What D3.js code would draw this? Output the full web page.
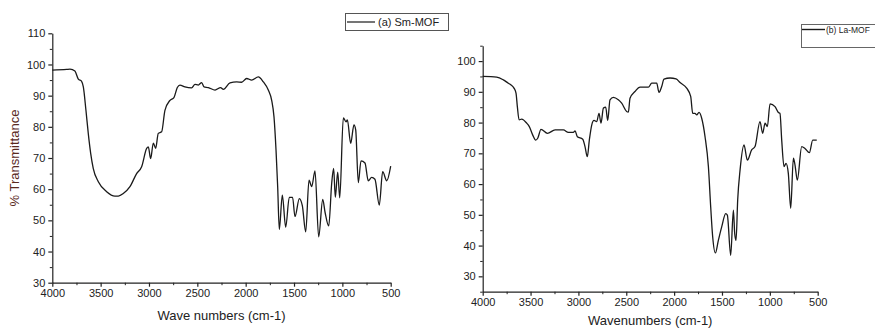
<!DOCTYPE html>
<html>
<head>
<meta charset="utf-8">
<script src="https://cdn.jsdelivr.net/npm/d3@7"></script>
<style>
  body { margin: 0; background: #fff; }
  svg { display: block; }
  .axis text { font-family: Arial, "Liberation Sans", sans-serif; fill: #222; }
  .axis path, .axis line { stroke: #222; }
</style>
</head>
<body>
<div id="chart"></div>
<script>
// (a) Sm-MOF spectrum
const smWave = [4000, 3852, 3817, 3766, 3731, 3697, 3679, 3652, 3628, 3603, 3576, 3524, 3438, 3352, 3317,
  3266, 3197, 3128, 3076, 3024, 3007, 2983, 2955, 2931, 2904, 2869, 2835, 2783, 2742, 2707, 2680,
  2628, 2559, 2524, 2490, 2455, 2431, 2386, 2317, 2259, 2231, 2162, 2093, 2042, 1990, 1938, 1869,
  1817, 1766, 1731, 1707, 1686, 1669, 1652, 1621, 1586, 1549, 1515, 1490, 1445, 1414, 1379, 1345,
  1317, 1283, 1245, 1203, 1179, 1141, 1110, 1090, 1073, 1048, 1027, 990, 962, 948, 914, 880, 862,
  835, 807, 766, 732, 697, 663, 618, 583, 541, 500];
const smT = [98.2, 98.4, 98.5, 97.9, 95.3, 94.6, 92.8, 85.3, 77.9, 71.5, 66.6, 62.4, 59.2, 57.8, 57.8,
  58.6, 60.8, 65.0, 67.2, 73.1, 73.6, 69.8, 74.8, 73.1, 77.9, 78.4, 85.3, 88.5, 89.4, 92.6, 93.4,
  92.8, 92.5, 93.6, 93.4, 94.2, 92.8, 92.6, 91.8, 92.6, 92.0, 94.1, 94.4, 94.3, 95.5, 95.0, 96.0,
  94.4, 91.8, 88.5, 83.2, 72.5, 60.8, 47.1, 58.1, 47.8, 57.4, 57.4, 51.2, 57.0, 54.7, 46.3, 62.9,
  60.8, 65.9, 44.7, 56.7, 52.6, 48.2, 62.0, 66.7, 57.4, 65.5, 57.2, 82.9, 81.6, 82.2, 74.7, 80.6, 79.0,
  62.1, 69.1, 68.4, 62.7, 63.8, 63.2, 54.9, 65.6, 62.7, 67.4];

// (b) La-MOF spectrum
const laWave = [4000, 3854, 3784, 3732, 3707, 3673, 3652, 3638, 3620, 3593, 3540, 3513, 3478, 3446, 3425,
  3391, 3324, 3244, 3157, 3105, 3053, 3035, 3011, 2955, 2931, 2907, 2886, 2861, 2837, 2809, 2785,
  2764, 2739, 2715, 2694, 2670, 2635, 2583, 2548, 2496, 2478, 2461, 2409, 2356, 2269, 2234, 2182,
  2158, 2130, 2106, 2043, 1980, 1938, 1869, 1827, 1806, 1782, 1764, 1740, 1712, 1677, 1642, 1618,
  1597, 1569, 1538, 1503, 1461, 1444, 1409, 1381, 1367, 1353, 1336, 1311, 1270, 1235, 1190, 1155,
  1103, 1075, 1050, 1026, 998, 946, 911, 894, 876, 852, 831, 807, 782, 754, 737, 713, 667, 633,
  587, 552, 510];
const laT = [95.0, 94.8, 93.9, 92.8, 92.3, 91.2, 89.6, 85.2, 80.9, 81.1, 79.8, 78.7, 76.0, 74.3, 74.9,
  77.8, 76.5, 77.6, 77.6, 76.8, 76.8, 77.3, 75.4, 74.6, 72.2, 68.9, 74.3, 79.2, 80.7, 80.3, 83.0,
  79.8, 84.7, 85.0, 80.7, 87.4, 88.2, 87.4, 86.3, 83.6, 83.4, 87.9, 90.1, 91.5, 91.5, 92.8, 92.8,
  89.8, 91.7, 94.1, 94.5, 94.2, 93.0, 91.2, 88.5, 83.0, 83.0, 82.5, 83.3, 81.4, 75.4, 65.7, 52.6,
  42.8, 37.6, 41.7, 46.1, 50.4, 49.9, 36.8, 51.5, 43.9, 41.7, 54.8, 64.6, 72.7, 67.8, 71.1, 72.2,
  80.3, 76.5, 79.8, 78.7, 86.1, 85.2, 83.3, 83.0, 74.3, 65.7, 66.7, 63.5, 52.1, 68.4, 66.2, 61.3,
  72.2, 71.6, 70.2, 74.3, 74.3];

const xTicks = [4000, 3500, 3000, 2500, 2000, 1500, 1000, 500];
const xMinor = [3750, 3250, 2750, 2250, 1750, 1250, 750];
const smYTicks = [30, 40, 50, 60, 70, 80, 90, 100, 110];
const smYMinor = [35, 45, 55, 65, 75, 85, 95, 105];
const laYTicks = [30, 40, 50, 60, 70, 80, 90, 100];
const laYMinor = [25, 35, 45, 55, 65, 75, 85, 95, 105];

const W = 875, H = 329;
const svg = d3.select("#chart").append("svg")
    .attr("width", W)
    .attr("height", H);

const font = 'Arial, "Liberation Sans", sans-serif';
const fmt = d3.format("d");

function panel(opts) {
    const x = d3.scaleLinear().domain([4000, 500]).range(opts.xr);
    const y = d3.scaleLinear().domain(opts.yd).range(opts.yr);
    const g = svg.append("g");

    // minor ticks first
    g.append("g")
     .attr("class", "axis")
     .attr("transform", `translate(0,${opts.yr[0]})`)
     .call(d3.axisBottom(x).tickValues(opts.xMinor).tickSize(2.5).tickFormat(""))
     .call(s => s.select(".domain").remove());
    g.append("g")
     .attr("class", "axis")
     .attr("transform", `translate(${opts.xr[0]},0)`)
     .call(d3.axisLeft(y).tickValues(opts.yMinor).tickSize(2.5).tickFormat(""))
     .call(s => s.select(".domain").remove());

    g.append("g")
     .attr("class", "axis")
     .attr("transform", `translate(0,${opts.yr[0]})`)
     .call(d3.axisBottom(x).tickValues(opts.xTicks).tickFormat(fmt).tickSize(4).tickPadding(3).tickSizeOuter(0))
     .call(s => s.selectAll("text").attr("font-size", 11).attr("font-family", font))
     .call(s => s.selectAll("line, path").attr("stroke-width", 1.2));

    g.append("g")
     .attr("class", "axis")
     .attr("transform", `translate(${opts.xr[0]},0)`)
     .call(d3.axisLeft(y).tickValues(opts.yTicks).tickFormat(fmt).tickSize(4).tickPadding(3).tickSizeOuter(0))
     .call(s => s.selectAll("text").attr("font-size", 11).attr("font-family", font))
     .call(s => s.selectAll("line, path").attr("stroke-width", 1.2));

    const line = d3.line()
        .x((d, i) => x(opts.wave[i]))
        .y(d => y(d))
        .curve(d3.curveMonotoneX);

    g.append("path")
     .datum(opts.vals)
     .attr("fill", "none")
     .attr("stroke", "#1a1a1a")
     .attr("stroke-width", 1.3)
     .attr("stroke-linejoin", "round")
     .attr("d", line);

    g.append("text")
     .attr("x", (opts.xr[0] + opts.xr[1]) / 2)
     .attr("y", opts.titleY)
     .attr("text-anchor", "middle")
     .attr("font-family", font)
     .attr("font-size", 13)
     .attr("fill", "#222")
     .text(opts.xTitle);
    return g;
}

panel({
    xr: [52.3, 390.7], yd: [30, 110], yr: [282.7, 33.3],
    xTicks: xTicks, xMinor: xMinor, yTicks: smYTicks, yMinor: smYMinor,
    wave: smWave, vals: smT, xTitle: "Wave numbers (cm-1)", titleY: 320
});

panel({
    xr: [482.7, 817.7], yd: [25, 105], yr: [291.7, 45.7],
    xTicks: xTicks, xMinor: xMinor, yTicks: laYTicks, yMinor: laYMinor,
    wave: laWave, vals: laT, xTitle: "Wavenumbers (cm-1)", titleY: 325
});

// y title on the left panel
svg.append("text")
   .attr("transform", "translate(19,158) rotate(-90)")
   .attr("text-anchor", "middle")
   .attr("font-family", font)
   .attr("font-size", 13)
   .attr("fill", "#5a2a1e")
   .text("% Transmittance");

// legend (a)
const legA = svg.append("g");
legA.append("rect")
    .attr("x", 345.5).attr("y", 13.5).attr("width", 103).attr("height", 17)
    .attr("fill", "#fff").attr("stroke", "#555").attr("stroke-width", 1);
legA.append("line")
    .attr("x1", 347).attr("x2", 375).attr("y1", 22).attr("y2", 22)
    .attr("stroke", "#1a1a1a").attr("stroke-width", 1.2);
legA.append("text")
    .attr("x", 378).attr("y", 26)
    .attr("font-family", font).attr("font-size", 11).attr("fill", "#222")
    .text("(a) Sm-MOF");

// legend (b)
const legB = svg.append("g");
legB.append("rect")
    .attr("x", 801.5).attr("y", 24.5).attr("width", 80).attr("height", 23)
    .attr("fill", "#fff").attr("stroke", "#666").attr("stroke-width", 1);
legB.append("line")
    .attr("x1", 802).attr("x2", 825).attr("y1", 29.5).attr("y2", 29.5)
    .attr("stroke", "#1a1a1a").attr("stroke-width", 1.4);
legB.append("text")
    .attr("x", 826).attr("y", 32.5)
    .attr("font-family", font).attr("font-size", 8.5).attr("fill", "#222")
    .text("(b) La-MOF");
</script>
</body>
</html>
